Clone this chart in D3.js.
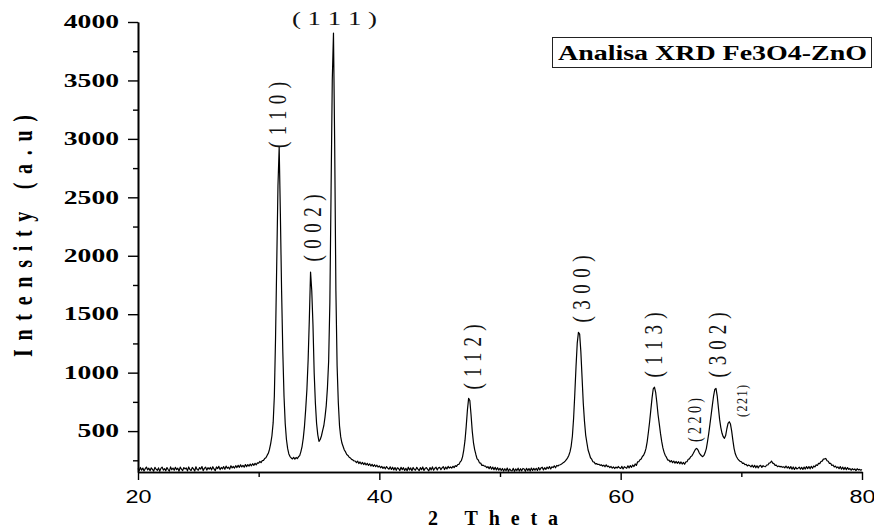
<!DOCTYPE html>
<html><head><meta charset="utf-8">
<script src="https://cdn.jsdelivr.net/npm/d3@7/dist/d3.min.js"></script>
<style>body{margin:0;background:#fff}svg{display:block}</style>
</head><body>
<svg id="chart" width="874" height="530"></svg>
<script>
// ---- data ----
const twoThetaStart = 20;   // first sample (deg)
const twoThetaStep = 0.1;   // scan step (deg)
const intensity = [
180,163,189,166,184,159,178,192,168,183,
161,186,172,158,190,175,164,185,157,181,
192,166,179,160,188,171,158,194,169,184,
165,190,170,183,157,192,174,162,188,176,
185,160,193,171,163,189,177,158,195,172,
166,188,175,197,162,181,192,166,187,174,
190,168,195,176,161,193,179,198,170,189,
177,196,173,200,182,191,175,203,185,197,
184,204,188,207,190,211,193,206,191,214,
196,213,200,218,203,221,207,224,212,228,
226,240,230,248,250,265,272,292,310,345,
395,460,570,800,1300,1950,2600,2930,2350,1700,
1180,800,565,430,352,305,282,270,262,276,
260,274,265,280,290,325,370,442,545,690,
860,1110,1460,1860,1700,1410,1000,740,565,468,
412,428,458,503,546,622,718,872,1100,1600,
2550,3500,3905,2950,1700,1060,745,545,450,398,
368,338,322,300,292,276,270,258,254,244,
244,230,243,222,236,218,232,214,228,210,
224,206,220,201,216,198,212,195,208,192,
202,186,198,180,193,177,197,182,174,194,
172,191,168,188,164,186,179,162,190,170,
187,163,182,160,191,168,185,161,189,172,
166,190,175,161,187,170,193,163,181,188,
172,160,188,168,194,165,182,191,167,186,
190,170,185,196,171,192,176,198,184,193,
183,199,188,204,198,214,216,236,248,282,
340,420,540,680,780,762,640,500,402,342,
300,262,253,228,226,206,209,200,201,187,
196,178,197,174,192,170,190,168,187,166,
182,163,180,158,178,161,184,157,176,163,
160,181,156,176,162,183,158,178,160,180,
175,156,182,162,179,158,184,163,181,165,
182,163,188,167,185,191,168,187,172,192,
178,196,176,194,188,203,186,206,201,210,
212,218,226,233,243,255,271,291,322,372,
458,610,820,1050,1250,1345,1330,1180,960,740,
585,466,400,338,306,272,260,238,235,219,
222,214,216,207,212,201,208,195,211,196,
200,188,197,183,194,180,192,184,197,186,
180,198,176,195,188,182,203,185,205,190,
210,196,219,206,236,238,255,262,283,293,
316,352,410,492,580,682,782,862,876,832,
742,640,562,480,412,356,318,291,275,252,
252,236,248,230,244,226,240,224,238,220,
236,218,232,216,236,238,259,262,280,288,
306,326,344,352,340,316,300,289,281,292,
316,350,412,480,560,640,722,800,856,866,
802,700,600,530,481,452,438,462,520,566,
580,560,500,420,350,306,281,263,251,241,
238,224,226,212,216,202,210,204,194,208,
190,207,186,204,185,202,207,189,204,197,
195,210,210,226,229,244,226,222,207,209,
195,201,194,198,190,195,186,201,184,196,
178,196,174,193,172,191,176,183,192,174,
190,172,192,175,196,179,197,177,199,182,
202,193,211,206,224,222,240,243,260,262,
266,246,242,224,225,206,210,193,201,185,
194,178,196,174,192,171,190,170,188,172,
180,165,178,170,176,162,178,168,172,165,
171
];
const xTicks = [20, 40, 60, 80];
const xMinorTicks = [30, 50, 70];
const yTicks = [500, 1000, 1500, 2000, 2500, 3000, 3500, 4000];
const yMinorTicks = [250, 750, 1250, 1750, 2250, 2750, 3250, 3750];
const hklLabels = ["(110)", "(002)", "( 1 1 1 )", "(112)", "(300)", "(113)", "(220)", "(302)", "(221)"];
const hklTwoTheta = [31.7, 34.3, 36.2, 47.45, 56.55, 62.8, 66.3, 67.9, 69.0];
const legendText = "Analisa XRD Fe3O4-ZnO";
const xTitle = "2 Theta";
const yTitle = "Intensity (a.u)";

// ---- layout ----
const serif = "'Liberation Serif','Times New Roman',serif";
const sans = "'Liberation Sans',Arial,sans-serif";
const svg = d3.select("#chart");
const x = d3.scaleLinear().domain([20, 80]).range([138, 862]);
const y = d3.scaleLinear().domain([150, 4000]).range([472, 22]);

// label placement (pixels, relative to the peak's x position)
const labelLayout = [
  {dx: -2,  cy: 115, len: 66, fs: 19, rot: true},
  {dx: 1.5, cy: 228, len: 67, fs: 19, rot: true},
  {dx: 1,   cy: 25,  len: 85, fs: 19, rot: false},
  {dx: 3,   cy: 357, len: 65, fs: 19, rot: true},
  {dx: 2,   cy: 289, len: 67, fs: 19, rot: true},
  {dx: -1.5,cy: 345, len: 65, fs: 19, rot: true},
  {dx: -2,  cy: 420, len: 44, fs: 14, rot: true},
  {dx: 1.5, cy: 345, len: 65, fs: 19, rot: true},
  {dx: 12,  cy: 401, len: 32, fs: 12, rot: true}
];

// ---- data line ----
const pts = intensity.map((v, i) => [+(twoThetaStart + i * twoThetaStep).toFixed(2), v]);
svg.append("path")
  .datum(pts)
  .attr("fill", "none")
  .attr("stroke", "#000")
  .attr("stroke-width", 1.2)
  .attr("stroke-linejoin", "round")
  .attr("d", d3.line().x(d => x(d[0])).y(d => y(d[1])));

// ---- axes ----
const yAxisG = svg.append("g").attr("transform", "translate(138,0)");
yAxisG.call(d3.axisLeft(y).tickValues(yMinorTicks).tickSize(5).tickSizeOuter(0).tickFormat(""));
yAxisG.append("g").call(d3.axisLeft(y).tickValues(yTicks).tickSize(10).tickSizeOuter(0).tickPadding(9).tickFormat(d3.format("d")));
yAxisG.selectAll("path.domain").attr("stroke", "#000").attr("stroke-width", 1.6);
yAxisG.selectAll(".tick line").attr("stroke", "#000").attr("stroke-width", 1.4);
yAxisG.selectAll(".tick text")
  .attr("font-family", serif).attr("font-weight", "bold").attr("font-size", 18)
  .attr("fill", "#000")
  .attr("lengthAdjust", "spacingAndGlyphs")
  .attr("textLength", d => String(d).length * 13.8);

const xAxisG = svg.append("g").attr("transform", "translate(0,472)");
xAxisG.call(d3.axisBottom(x).tickValues(xMinorTicks).tickSize(5).tickSizeOuter(0).tickFormat(""));
xAxisG.append("g").call(d3.axisBottom(x).tickValues(xTicks).tickSize(8).tickSizeOuter(0).tickPadding(10).tickFormat(d3.format("d")));
xAxisG.selectAll("path.domain").attr("stroke", "#000").attr("stroke-width", 1.6);
xAxisG.selectAll(".tick line").attr("stroke", "#000").attr("stroke-width", 1.4);
xAxisG.selectAll(".tick text")
  .attr("font-family", sans).attr("font-size", 18).attr("fill", "#000")
  .attr("lengthAdjust", "spacingAndGlyphs")
  .attr("textLength", d => String(d).length * 13);

// ---- axis titles ----
svg.append("text")
  .attr("x", 428).attr("y", 525)
  .attr("font-family", serif).attr("font-weight", "bold").attr("font-size", 20)
  .attr("textLength", 130).attr("lengthAdjust", "spacing")
  .text(xTitle);

svg.append("text")
  .attr("transform", "translate(32,236) scale(1.4,1) rotate(-90)")
  .attr("text-anchor", "middle")
  .attr("font-family", serif).attr("font-weight", "bold").attr("font-size", 20)
  .attr("textLength", 242).attr("lengthAdjust", "spacing")
  .text(yTitle);

// ---- legend box ----
svg.append("rect")
  .attr("x", 552.5).attr("y", 37.5).attr("width", 319).attr("height", 30)
  .attr("fill", "#fff").attr("stroke", "#222").attr("stroke-width", 1);
svg.append("text")
  .attr("x", 558).attr("y", 60)
  .attr("font-family", serif).attr("font-weight", "bold").attr("font-size", 20)
  .attr("textLength", 309).attr("lengthAdjust", "spacingAndGlyphs")
  .text(legendText);

// ---- peak labels ----
hklLabels.forEach((lab, i) => {
  const L = labelLayout[i];
  const cx = x(hklTwoTheta[i]) + L.dx;
  if (L.rot) {
    svg.append("text")
      .attr("transform", `translate(${cx},${L.cy}) scale(1.3,1) rotate(-90)`)
      .attr("text-anchor", "middle").attr("dy", "0.35em")
      .attr("font-family", serif).attr("font-size", L.fs).attr("fill", "#111")
      .attr("textLength", L.len).attr("lengthAdjust", "spacing")
      .text(lab);
  } else {
    svg.append("text")
      .attr("x", cx).attr("y", L.cy)
      .attr("text-anchor", "middle")
      .attr("font-family", serif).attr("font-size", L.fs).attr("fill", "#111")
      .attr("textLength", L.len).attr("lengthAdjust", "spacingAndGlyphs")
      .text(lab);
  }
});
</script>
</body></html>
